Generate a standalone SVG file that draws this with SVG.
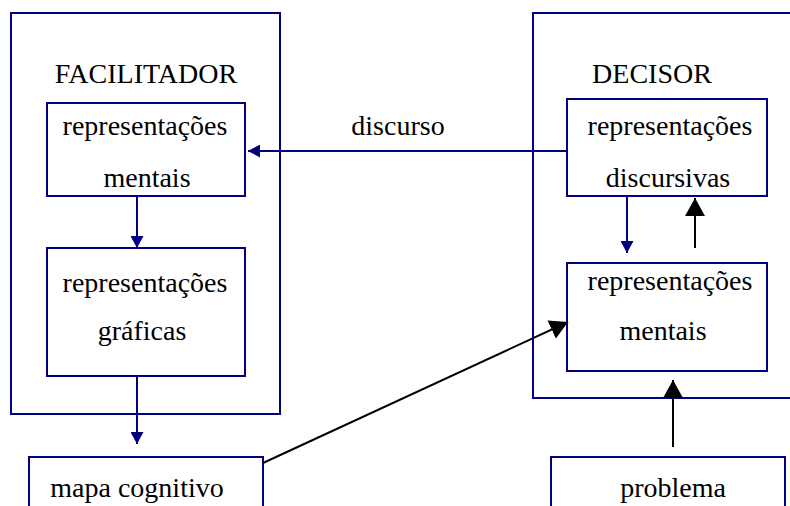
<svg xmlns="http://www.w3.org/2000/svg" width="790" height="506" viewBox="0 0 790 506">
<defs>
<style>
.box{fill:none;stroke:#000080;stroke-width:2}
.blue{stroke:#000080;stroke-width:2;fill:none}
.blk{stroke:#000;stroke-width:2;fill:none}
</style>
<marker id="ab" markerUnits="userSpaceOnUse" markerWidth="13" markerHeight="13" refX="12" refY="6.5" orient="auto"><path d="M0,0 L12,6.5 L0,13 z" fill="#000080"/></marker>
<marker id="ak" markerUnits="userSpaceOnUse" markerWidth="18" markerHeight="20" refX="18" refY="10" orient="auto"><path d="M0,0 L18,10 L0,20 z" fill="#000"/></marker>
</defs>
<rect width="790" height="506" fill="#fff"/>
<g font-family="Times New Roman, Liberation Serif, serif" font-size="28" text-anchor="middle" fill="#000">
<g id="facilitador">
<rect class="box" x="11" y="13" width="269" height="401"/>
<text x="146" y="83">FACILITADOR</text>
</g>
<g id="fac-rep-mentais">
<rect class="box" x="47" y="103" width="198" height="93"/>
<text x="145" y="135">representações</text>
<text x="147" y="187">mentais</text>
</g>
<g id="fac-rep-graficas">
<rect class="box" x="47" y="248" width="198" height="128"/>
<text x="145" y="292">representações</text>
<text x="142" y="340">gráficas</text>
</g>
<g id="mapa-cognitivo">
<rect class="box" x="29" y="457" width="234" height="60"/>
<text x="137" y="497">mapa cognitivo</text>
</g>
<g id="decisor">
<rect class="box" x="533" y="13" width="270" height="385"/>
<text x="652" y="83">DECISOR</text>
</g>
<g id="dec-rep-discursivas">
<rect class="box" x="567" y="99" width="200" height="97"/>
<text x="670" y="135">representações</text>
<text x="668" y="187">discursivas</text>
</g>
<g id="dec-rep-mentais">
<rect class="box" x="567" y="263" width="200" height="108"/>
<text x="670" y="290">representações</text>
<text x="663" y="340">mentais</text>
</g>
<g id="problema">
<rect class="box" x="551" y="457" width="234" height="60"/>
<text x="673" y="497">problema</text>
</g>
<g id="connectors">
<line class="blue" x1="567" y1="151" x2="248" y2="151" marker-end="url(#ab)"/>
<text x="398" y="135">discurso</text>
<line class="blue" x1="137" y1="196" x2="137" y2="248" marker-end="url(#ab)"/>
<line class="blue" x1="137" y1="376" x2="137" y2="444" marker-end="url(#ab)"/>
<line class="blue" x1="627" y1="196" x2="627" y2="253" marker-end="url(#ab)"/>
<line class="blk" x1="695" y1="248" x2="695" y2="198" marker-end="url(#ak)"/>
<line class="blk" x1="673" y1="447" x2="673" y2="380" marker-end="url(#ak)"/>
<line class="blk" x1="263" y1="463" x2="568" y2="322" marker-end="url(#ak)"/>
</g>
</g>
</svg>
